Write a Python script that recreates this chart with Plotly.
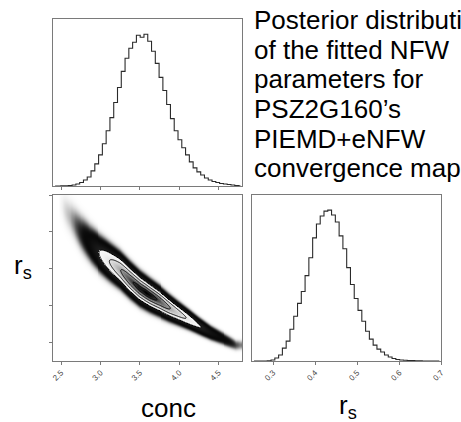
import numpy as np
import plotly.graph_objects as go

# ---- marginal histograms (50 bins across each plotted range) ----
conc_range = (2.4, 4.8)
conc_counts = [0, 0, 2, 6, 10, 20, 40, 70, 120, 180, 300, 440, 620, 840, 1100,
               1360, 1660, 1960, 2280, 2540, 2740, 2860, 3000, 2960, 3020, 2880,
               2680, 2440, 2160, 1900, 1620, 1340, 1100, 920, 760, 620, 480, 360,
               280, 220, 160, 120, 90, 70, 50, 40, 30, 20, 10, 6]

rs_range = (0.25, 0.7)
rs_counts = [0, 0, 0, 0, 6, 20, 60, 120, 260, 400, 640, 900, 1160, 1400, 1720,
             2080, 2480, 2760, 2920, 3020, 3040, 2940, 2800, 2520, 2260, 1880,
             1540, 1260, 1020, 800, 600, 440, 320, 240, 180, 120, 80, 50, 30, 20,
             16, 10, 8, 6, 2, 0, 0, 0, 0, 0]

# ---- conc / r_s degeneracy: ridge of the joint posterior and its spread ----
ridge_conc = [2.5, 2.625, 2.75, 2.875, 3.0, 3.125, 3.25, 3.375, 3.5, 3.625,
              3.75, 3.875, 4.0, 4.125, 4.25, 4.4, 4.56, 4.725]
ridge_rs = [0.672, 0.637, 0.598, 0.566, 0.540, 0.518, 0.497, 0.470, 0.446,
            0.428, 0.412, 0.394, 0.378, 0.362, 0.345, 0.326, 0.310, 0.293]
ridge_sigma = [0.024, 0.023, 0.022, 0.0205, 0.019, 0.018, 0.017, 0.0162,
               0.0155, 0.0146, 0.0137, 0.0123, 0.011, 0.0098, 0.0088, 0.008,
               0.0075, 0.007]

conc_ticks = [2.5, 3.0, 3.5, 4.0, 4.5]
rs_ticks = [0.3, 0.4, 0.5, 0.6, 0.7]
conc_ticktext = ["2.5", "3.0", "3.5", "4.0", "4.5"]
rs_ticktext = ["0.3", "0.4", "0.5", "0.6", "0.7"]

title_lines = ["Posterior distribution", "of the fitted NFW", "parameters for",
               "PSZ2G160\u2019s", "PIEMD+eNFW", "convergence map"]

W, H = 461, 422
FONT = "Liberation Sans, Arial, sans-serif"


def centers(rng, n):
    w = (rng[1] - rng[0]) / n
    return rng[0] + w * (np.arange(n) + 0.5)


conc_c = centers(conc_range, len(conc_counts))
rs_c = centers(rs_range, len(rs_counts))

# joint density on a fine grid built from the marginal and the ridge
gx = centers(conc_range, 192)
gy = centers(rs_range, 166)
m = np.interp(gx, conc_c, conc_counts)
mu = np.interp(gx, ridge_conc, ridge_rs)
sg = np.interp(gx, ridge_conc, ridge_sigma)
J = (m / sg)[None, :] * np.exp(-0.5 * ((gy[:, None] - mu[None, :]) / sg[None, :]) ** 2)
J = J / J.max()

# contour levels enclosing 0.5, 1, 1.5, 2 sigma of the mass
flat = np.sort(J.ravel())[::-1]
cum = np.cumsum(flat)
cum = cum / cum[-1]
fracs = 1 - np.exp(-0.5 * np.array([0.5, 1.0, 1.5, 2.0]) ** 2)
levels = [float(flat[np.searchsorted(cum, f)]) for f in fracs]
v0 = min(levels)

# grey shading: dense data points outside the outer contour,
# white fill plus density shading inside it
dark = 1 - np.exp(-J / 0.006)
shade = np.where(J >= v0, 1 - J ** 2, (1 - J) * (1 - dark) + J * (1 - J))

fig = go.Figure()

hist_line = dict(color="#2a2a2a", width=1.1, shape="hvh")

fig.add_trace(go.Scatter(x=conc_c, y=conc_counts, mode="lines", line=hist_line,
                         xaxis="x", yaxis="y", hoverinfo="skip"))
fig.add_trace(go.Heatmap(x=gx, y=gy, z=shade, zmin=0, zmax=1,
                         colorscale=[[0, "black"], [1, "white"]], showscale=False,
                         zsmooth=False, xaxis="x2", yaxis="y2", hoverinfo="skip"))
for lv in levels:
    fig.add_trace(go.Contour(x=gx, y=gy, z=J, autocontour=False,
                             contours=dict(start=lv, end=lv, size=1, coloring="lines"),
                             colorscale=[[0, "black"], [1, "black"]], showscale=False,
                             line=dict(width=0.9), xaxis="x2", yaxis="y2",
                             hoverinfo="skip"))
fig.add_trace(go.Scatter(x=rs_c, y=rs_counts, mode="lines", line=hist_line,
                         xaxis="x3", yaxis="y3", hoverinfo="skip"))


def px_x(a, b):
    return [a / W, b / W]


def px_y(top, bottom):
    return [1 - bottom / H, 1 - top / H]


frame = dict(showline=True, mirror=True, linecolor="#7a7a7a", linewidth=1,
             showgrid=False, zeroline=False, ticks="outside", ticklen=3,
             tickwidth=1, tickcolor="#7a7a7a",
             tickfont=dict(family=FONT, size=8, color="#444"))

fig.update_layout(
    width=W, height=H, margin=dict(l=0, r=0, t=0, b=0),
    paper_bgcolor="white", plot_bgcolor="white", showlegend=False,
    xaxis=dict(frame, domain=px_x(52, 244), range=list(conc_range), anchor="y",
               tickvals=conc_ticks, showticklabels=False),
    yaxis=dict(frame, domain=px_y(19, 186), range=[0, 1.1 * max(conc_counts)],
               anchor="x", ticks="", showticklabels=False),
    xaxis2=dict(frame, domain=px_x(52, 244), range=list(conc_range), anchor="y2",
                tickvals=conc_ticks, ticktext=conc_ticktext, tickangle=-45),
    yaxis2=dict(frame, domain=px_y(195, 361), range=list(rs_range), anchor="x2",
                tickvals=rs_ticks, showticklabels=False),
    xaxis3=dict(frame, domain=px_x(254, 446), range=list(rs_range), anchor="y3",
                tickvals=rs_ticks, ticktext=rs_ticktext, tickangle=-45),
    yaxis3=dict(frame, domain=px_y(195, 361), range=[0, 1.1 * max(rs_counts)],
                anchor="x3", ticks="", showticklabels=False),
)

label_font = dict(family=FONT, size=26, color="black")
annotations = [
    dict(text="conc", x=169 / W, y=1 - 408 / H),
    dict(text="r<sub>s</sub>", x=351 / W, y=1 - 406 / H),
    dict(text="r<sub>s</sub>", x=21 / W, y=1 - 266 / H),
]
for a in annotations:
    fig.add_annotation(a, xref="paper", yref="paper", showarrow=False,
                       xanchor="center", yanchor="middle", font=label_font)

title_font = dict(family=FONT, size=26, color="black")
for i, line in enumerate(title_lines):
    baseline = 28 + 29.7 * i
    fig.add_annotation(text=line, xref="paper", yref="paper", showarrow=False,
                       x=254 / W, y=1 - (baseline - 8) / H, xanchor="left",
                       yanchor="middle", font=title_font)

fig.write_html("out.html", config={"displayModeBar": False})
